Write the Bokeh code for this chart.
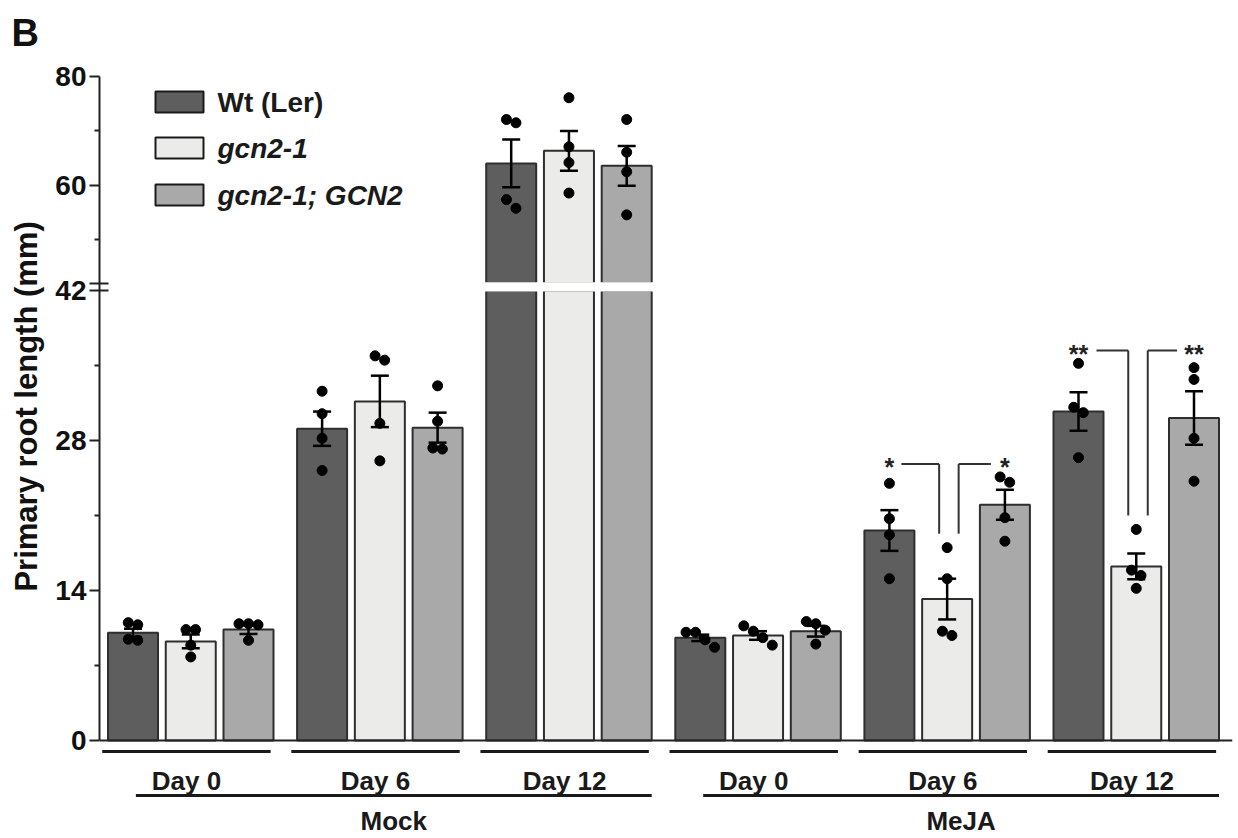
import numpy as np
from bokeh.plotting import figure
from bokeh.models import Range1d, FixedTicker, Span, ColumnDataSource
from bokeh.core.properties import value
from bokeh.embed import file_html
from bokeh.resources import INLINE

# ---------------- data ----------------
treatments = ["Mock", "MeJA"]
days = ["Day 0", "Day 6", "Day 12"]
genotypes = ["Wt (Ler)", "gcn2-1", "gcn2-1; GCN2"]
y_title = "Primary root length (mm)"

# group order: Mock D0, Mock D6, Mock D12, MeJA D0, MeJA D6, MeJA D12
mean_wt = [10.05, 29.1, 64.05, 9.58, 19.6, 30.7]
mean_gcn2 = [9.25, 31.65, 66.35, 9.8, 13.2, 16.25]
mean_comp = [10.35, 29.2, 63.6, 10.2, 22.0, 30.1]

sem_wt = [0.38, 1.6, 4.4, 0.3, 1.9, 1.8]
sem_gcn2 = [0.65, 2.4, 3.65, 0.4, 1.9, 1.2]
sem_comp = [0.4, 1.4, 3.65, 0.5, 1.4, 2.5]

dots_wt = [[10.8, 11.0, 9.35, 9.45], [32.6, 30.5, 28.2, 25.2], [71.5, 72.1, 57.4, 55.8],
           [10.1, 10.1, 9.4, 8.7], [24.0, 20.7, 19.2, 15.1], [35.2, 31.1, 30.6, 26.4]]
dots_gcn2 = [[10.35, 10.35, 8.9, 7.8], [35.5, 35.9, 29.6, 26.1], [76.1, 67.1, 64.2, 58.6],
             [10.2, 10.7, 9.6, 8.9], [18.0, 15.1, 9.8, 10.2], [19.7, 15.9, 15.4, 14.2]]
dots_comp = [[10.9, 10.9, 10.8, 9.35], [33.1, 29.8, 27.2, 27.3], [72.1, 66.1, 62.5, 54.6],
             [11.1, 10.9, 10.3, 9.0], [24.1, 24.6, 20.8, 18.6], [34.8, 33.7, 28.2, 24.2]]

sig_wt = ["", "", "", "", "*", "**"]
sig_comp = ["", "", "", "", "*", "**"]

lower_ticks = [0, 14, 28, 42]
lower_minor = [7, 21, 35]
upper_ticks = [60, 80]
upper_minor = [50, 70]

# ---------------- geometry ----------------
W, H = 1238, 838
FL, FR, FT, FB = 99, 1232, 60, 838
Y0_PX, YB_PX = 740, 290      # lower segment: 0 .. 42
U80_PX, UB_PX = 76, 283      # upper segment: 42 .. 80
BREAK, UTOP = 42, 80
LPX = (Y0_PX - YB_PX) / BREAK
UPX = (UB_PX - U80_PX) / (UTOP - BREAK)
STEP_PX = 57.75
X0_PX = 132.5
GROUP = 189.1 / STEP_PX
BAR_W = 50 / STEP_PX
CAP = 18 / STEP_PX
DOT_PX = 10
SPREAD = 9.5 / STEP_PX

FONT = "Liberation Sans"


def px_x(px):
    return (px - X0_PX) / STEP_PX


def px_l(py):
    return (Y0_PX - py) / LPX


def px_u(py):
    return UTOP - (py - U80_PX) / UPX


def u_to_l(u):
    return px_l(U80_PX + (UTOP - u) * UPX)


def val_px(v):
    return Y0_PX - v * LPX if v <= BREAK else U80_PX + (UTOP - v) * UPX


p = figure(width=W, height=H, x_range=Range1d(px_x(FL), px_x(FR)),
           y_range=Range1d(px_l(FB), px_l(FT)),
           min_border_left=FL, min_border_right=W - FR, min_border_top=FT,
           min_border_bottom=H - FB, x_axis_location=None,
           toolbar_location=None, output_backend="svg")
p.extra_y_ranges = {"upper": Range1d(px_u(FB), px_u(FT))}
p.xgrid.visible = False
p.ygrid.visible = False
p.outline_line_color = None
p.background_fill_color = "white"
p.border_fill_color = "white"

p.title.text = "B"
p.title.align = "left"
p.title.offset = -88
p.title.standoff = 14
p.title.text_font = FONT
p.title.text_font_style = "bold"
p.title.text_font_size = "38px"
p.title.text_color = "#111111"

colors = ["#5e5e5e", "#ebecea", "#a9a9a9"]
edge = "#2e2e2e"
means = [mean_wt, mean_gcn2, mean_comp]
sems = [sem_wt, sem_gcn2, sem_comp]
dots = [dots_wt, dots_gcn2, dots_comp]


def xpos(g, j):
    return g * GROUP + j


# ---------------- bars ----------------
for j in range(3):
    xs = [xpos(g, j) for g in range(6)]
    tops = [min(m, BREAK) for m in means[j]]
    p.vbar(x=xs, width=BAR_W, bottom=0, top=tops, fill_color=colors[j],
           line_color=edge, line_width=2)
    up_x = [xpos(g, j) for g in range(6) if means[j][g] > BREAK]
    up_t = [m for m in means[j] if m > BREAK]
    if up_x:
        p.vbar(x=up_x, width=BAR_W, bottom=BREAK, top=up_t, fill_color=colors[j],
               line_color=edge, line_width=2, y_range_name="upper")
        p.quad(left=[x - BAR_W / 2 - 0.05 for x in up_x],
               right=[x + BAR_W / 2 + 0.05 for x in up_x],
               bottom=px_l(UB_PX + 8), top=px_l(UB_PX - 1.2),
               fill_color="white", line_color=None)

# ---------------- error bars ----------------
seg_low = dict(x0=[], y0=[], x1=[], y1=[])
seg_up = dict(x0=[], y0=[], x1=[], y1=[])
for j in range(3):
    for g in range(6):
        m, s = means[j][g], sems[j][g]
        x = xpos(g, j)
        d = seg_up if m > BREAK else seg_low
        for (a0, b0, a1, b1) in [(x, m - s, x, m + s),
                                 (x - CAP / 2, m + s, x + CAP / 2, m + s),
                                 (x - CAP / 2, m - s, x + CAP / 2, m - s)]:
            d["x0"].append(a0); d["y0"].append(b0); d["x1"].append(a1); d["y1"].append(b1)
p.segment(x0="x0", y0="y0", x1="x1", y1="y1", source=ColumnDataSource(seg_low),
          line_color="black", line_width=2.5)
p.segment(x0="x0", y0="y0", x1="x1", y1="y1", source=ColumnDataSource(seg_up),
          line_color="black", line_width=2.5, y_range_name="upper")


# ---------------- dots (simple swarm) ----------------
def swarm(vals):
    ys = np.array([val_px(v) for v in vals])
    order = list(np.argsort(ys))
    offs = np.zeros(len(vals))
    clusters, cur = [], [order[0]]
    for a, b in zip(order[:-1], order[1:]):
        if ys[b] - ys[a] < DOT_PX:
            cur.append(b)
        else:
            clusters.append(cur)
            cur = [b]
    clusters.append(cur)
    for c in clusters:
        n = len(c)
        for k, i in enumerate(c):
            offs[i] = (k - (n - 1) / 2) * SPREAD
    return offs


dl = dict(x=[], y=[])
du = dict(x=[], y=[])
for j in range(3):
    for g in range(6):
        vals = dots[j][g]
        offs = swarm(vals)
        for v, o in zip(vals, offs):
            d = du if v > BREAK else dl
            d["x"].append(xpos(g, j) + o)
            d["y"].append(v)
p.scatter(x="x", y="y", source=ColumnDataSource(dl), size=DOT_PX, color="black")
p.scatter(x="x", y="y", source=ColumnDataSource(du), size=DOT_PX, color="black",
          y_range_name="upper")

# ---------------- significance ----------------
bx = dict(x0=[], y0=[], x1=[], y1=[])
st = dict(x=[], y=[], t=[])
for g in range(6):
    if not sig_wt[g] and not sig_comp[g]:
        continue
    top = max(max(dots_wt[g]), max(dots_gcn2[g]), max(dots_comp[g])) + 1.2
    low = max(dots_gcn2[g]) + 1.3
    xw, xg, xc = xpos(g, 0), xpos(g, 1), xpos(g, 2)
    vl = xg - 8 / STEP_PX
    vr = xg + 11.5 / STEP_PX
    if sig_wt[g]:
        n = len(sig_wt[g])
        hs = xw + (6 * n + 6) / STEP_PX
        for seg in [(hs, top, vl, top), (vl, top, vl, low)]:
            for k, key in enumerate(["x0", "y0", "x1", "y1"]):
                bx[key].append(seg[k])
        st["x"].append(xw); st["y"].append(top); st["t"].append(sig_wt[g])
    if sig_comp[g]:
        n = len(sig_comp[g])
        he = xc - (3 * n + 11) / STEP_PX
        for seg in [(vr, low, vr, top), (vr, top, he, top)]:
            for k, key in enumerate(["x0", "y0", "x1", "y1"]):
                bx[key].append(seg[k])
        st["x"].append(xc); st["y"].append(top); st["t"].append(sig_comp[g])
p.segment(x0="x0", y0="y0", x1="x1", y1="y1", source=ColumnDataSource(bx),
          line_color="#333333", line_width=2)
p.text(x="x", y="y", text="t", source=ColumnDataSource(st),
       text_font=value(FONT), text_font_style=value("bold"),
       text_font_size=value("25px"), text_align=value("center"),
       text_baseline=value("alphabetic"), y_offset=3, text_color="#222222")

# ---------------- baseline ----------------
p.add_layout(Span(location=0, dimension="width", line_color="#222222", line_width=2))

# ---------------- category labels ----------------
day_y = px_l(751)
trt_y = px_l(795)
lines = dict(x0=[], y0=[], x1=[], y1=[])
dlab = dict(x=[], y=[], t=[])
tlab = dict(x=[], y=[], t=[])
for t_i, trt in enumerate(treatments):
    for d_i, day in enumerate(days):
        g = t_i * 3 + d_i
        l = xpos(g, 0) - BAR_W / 2 - 0.1
        r = xpos(g, 2) + BAR_W / 2 - 0.05
        lines["x0"].append(l); lines["x1"].append(r)
        lines["y0"].append(day_y); lines["y1"].append(day_y)
        dlab["x"].append((l + r) / 2); dlab["y"].append(px_l(780)); dlab["t"].append(day)
    l = xpos(t_i * 3, 0) + 0.05
    r = xpos(t_i * 3 + 2, 2) + BAR_W / 2
    lines["x0"].append(l); lines["x1"].append(r)
    lines["y0"].append(trt_y); lines["y1"].append(trt_y)
    tlab["x"].append((l + r) / 2); tlab["y"].append(px_l(820)); tlab["t"].append(trt)
p.segment(x0="x0", y0="y0", x1="x1", y1="y1", source=ColumnDataSource(lines),
          line_color="#1a1a1a", line_width=3)
for src in (dlab, tlab):
    p.text(x="x", y="y", text="t", source=ColumnDataSource(src),
           text_font=value(FONT), text_font_style=value("bold"),
           text_font_size=value("26px"), text_align=value("center"),
           text_baseline=value("alphabetic"), text_color="#1a1a1a")

# ---------------- legend (drawn) ----------------
leg_x = px_x(179)
leg_ys = [px_l(101.5), px_l(147.5), px_l(194.5)]
p.rect(x=[leg_x] * 3, y=leg_ys, width=48 / STEP_PX, height=21 / LPX,
       fill_color=colors, line_color="#1a1a1a", line_width=2)
p.text(x=[px_x(217)], y=[leg_ys[0]], text=[genotypes[0]], text_font=value(FONT),
       text_font_style=value("bold"), text_font_size=value("28px"),
       text_baseline=value("middle"), text_color="#1a1a1a")
p.text(x=[px_x(217)] * 2, y=leg_ys[1:], text=genotypes[1:], text_font=value(FONT),
       text_font_style=value("bold italic"), text_font_size=value("28px"),
       text_baseline=value("middle"), text_color="#1a1a1a")

# ---------------- y axis ----------------
hash_hi = round(px_l(UB_PX), 4)   # upper mark of the axis break
maj = [float(v) for v in lower_ticks] + [hash_hi] + [round(u_to_l(u), 4) for u in upper_ticks]
mnr = [float(v) for v in lower_minor] + [round(u_to_l(u), 4) for u in upper_minor]
labels = [str(v) for v in lower_ticks] + [""] + [str(u) for u in upper_ticks]
ax = p.yaxis[0]
ax.ticker = FixedTicker(ticks=maj, minor_ticks=mnr)
ax.major_label_overrides = {m: s for m, s in zip(maj, labels)}
ax.bounds = (0, round(u_to_l(UTOP), 4))
ax.axis_line_width = 2
ax.axis_line_color = "#222222"
ax.major_tick_line_width = 2
ax.major_tick_line_color = "#222222"
ax.minor_tick_line_width = 2
ax.minor_tick_line_color = "#222222"
ax.major_tick_out = 10
ax.major_tick_in = 0
ax.minor_tick_out = 5
ax.minor_tick_in = 0
ax.major_label_standoff = 3
ax.major_label_text_font = FONT
ax.major_label_text_font_style = "bold"
ax.major_label_text_font_size = "28px"
ax.major_label_text_color = "#111111"
# the label is centred on the frame; non-breaking spaces lift it to the axis centre
ax.axis_label = "\u00a0" * 10 + y_title
ax.axis_label_text_font = FONT
ax.axis_label_text_font_style = "bold"
ax.axis_label_text_font_size = "31px"
ax.axis_label_text_color = "#111111"
ax.axis_label_standoff = 8

# inner halves of the axis-break marks
p.segment(x0=[px_x(FL)] * 2, x1=[px_x(108)] * 2, y0=[hash_hi, float(BREAK)],
          y1=[hash_hi, float(BREAK)], line_color="#222222", line_width=2)

open("out.html", "w").write(file_html(p, INLINE))
